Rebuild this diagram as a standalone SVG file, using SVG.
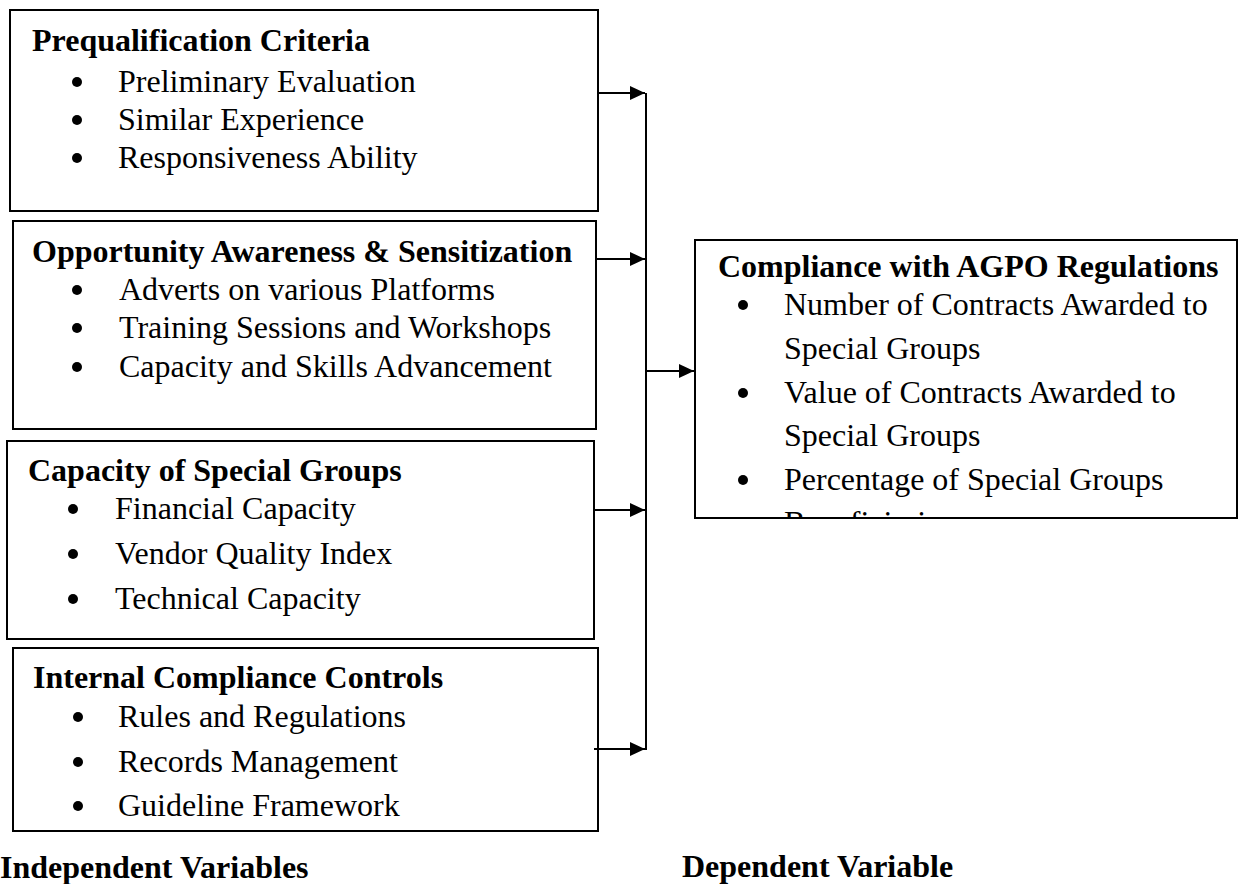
<svg xmlns="http://www.w3.org/2000/svg" width="1239" height="884" viewBox="0 0 1239 884">
<style>
.box{fill:#fff;stroke:#000;stroke-width:2}
.h{font-family:"Liberation Serif",serif;font-weight:bold;font-size:32px;fill:#000}
.t{font-family:"Liberation Serif",serif;font-size:32px;fill:#000}
.c{stroke:#000;stroke-width:2;fill:none}
.b{fill:#000}
</style>
<defs>
<marker id="ah" markerWidth="15" markerHeight="14" refX="15" refY="7" orient="auto" markerUnits="userSpaceOnUse" viewBox="0 0 15 14">
<path d="M0,0 L15,7 L0,14 z" fill="#000"/>
</marker>
<clipPath id="rclip"><rect x="696" y="241" width="540" height="276"/></clipPath>
</defs>
<rect width="1239" height="884" fill="#fff"/>
<g id="node-prequalification">
<rect class="box" x="10" y="10" width="588" height="201"/>
<text class="h" x="32" y="51">Prequalification Criteria</text>
<circle class="b" cx="77" cy="82" r="5"/><text class="t" x="118" y="92">Preliminary Evaluation</text>
<circle class="b" cx="77" cy="120" r="5"/><text class="t" x="118" y="130">Similar Experience</text>
<circle class="b" cx="77" cy="158" r="5"/><text class="t" x="118" y="168">Responsiveness Ability</text>
</g>
<g id="node-opportunity">
<rect class="box" x="13" y="221" width="583" height="208"/>
<text class="h" x="32" y="262">Opportunity Awareness &amp; Sensitization</text>
<circle class="b" cx="77" cy="290" r="5"/><text class="t" x="119" y="300">Adverts on various Platforms</text>
<circle class="b" cx="77" cy="328" r="5"/><text class="t" x="119" y="338">Training Sessions and Workshops</text>
<circle class="b" cx="77" cy="367" r="5"/><text class="t" x="119" y="377">Capacity and Skills Advancement</text>
</g>
<g id="node-capacity">
<rect class="box" x="7" y="441" width="587" height="198"/>
<text class="h" x="28" y="481">Capacity of Special Groups</text>
<circle class="b" cx="73" cy="509" r="5"/><text class="t" x="115" y="519">Financial Capacity</text>
<circle class="b" cx="73" cy="554" r="5"/><text class="t" x="115" y="564">Vendor Quality Index</text>
<circle class="b" cx="73" cy="599" r="5"/><text class="t" x="115" y="609">Technical Capacity</text>
</g>
<g id="node-internal">
<rect class="box" x="13" y="648" width="585" height="183"/>
<text class="h" x="33" y="688">Internal Compliance Controls</text>
<circle class="b" cx="78" cy="717" r="5"/><text class="t" x="118" y="727">Rules and Regulations</text>
<circle class="b" cx="78" cy="762" r="5"/><text class="t" x="118" y="772">Records Management</text>
<circle class="b" cx="78" cy="806" r="5"/><text class="t" x="118" y="816">Guideline Framework</text>
</g>
<g id="node-compliance">
<rect class="box" x="695" y="240" width="542" height="278"/>
<g clip-path="url(#rclip)">
<text class="h" x="718" y="277">Compliance with AGPO Regulations</text>
<circle class="b" cx="743" cy="305" r="5"/><text class="t" x="784" y="315">Number of Contracts Awarded to</text>
<text class="t" x="784" y="359">Special Groups</text>
<circle class="b" cx="743" cy="393" r="5"/><text class="t" x="784" y="403">Value of Contracts Awarded to</text>
<text class="t" x="784" y="446">Special Groups</text>
<circle class="b" cx="743" cy="480" r="5"/><text class="t" x="784" y="490">Percentage of Special Groups</text>
<text class="t" x="784" y="533">Beneficiaries</text>
</g>
</g>
<g id="labels">
<text class="h" x="0" y="878">Independent Variables</text>
<text class="h" x="682" y="877">Dependent Variable</text>
</g>
<g id="connectors">
<line class="c" x1="646" y1="93" x2="646" y2="750"/>
<line class="c" x1="598" y1="93" x2="645" y2="93" marker-end="url(#ah)"/>
<line class="c" x1="596" y1="259" x2="645" y2="259" marker-end="url(#ah)"/>
<line class="c" x1="594" y1="510" x2="645" y2="510" marker-end="url(#ah)"/>
<line class="c" x1="594" y1="749" x2="645" y2="749" marker-end="url(#ah)"/>
<line class="c" x1="646" y1="371" x2="694" y2="371" marker-end="url(#ah)"/>
</g>
</svg>
